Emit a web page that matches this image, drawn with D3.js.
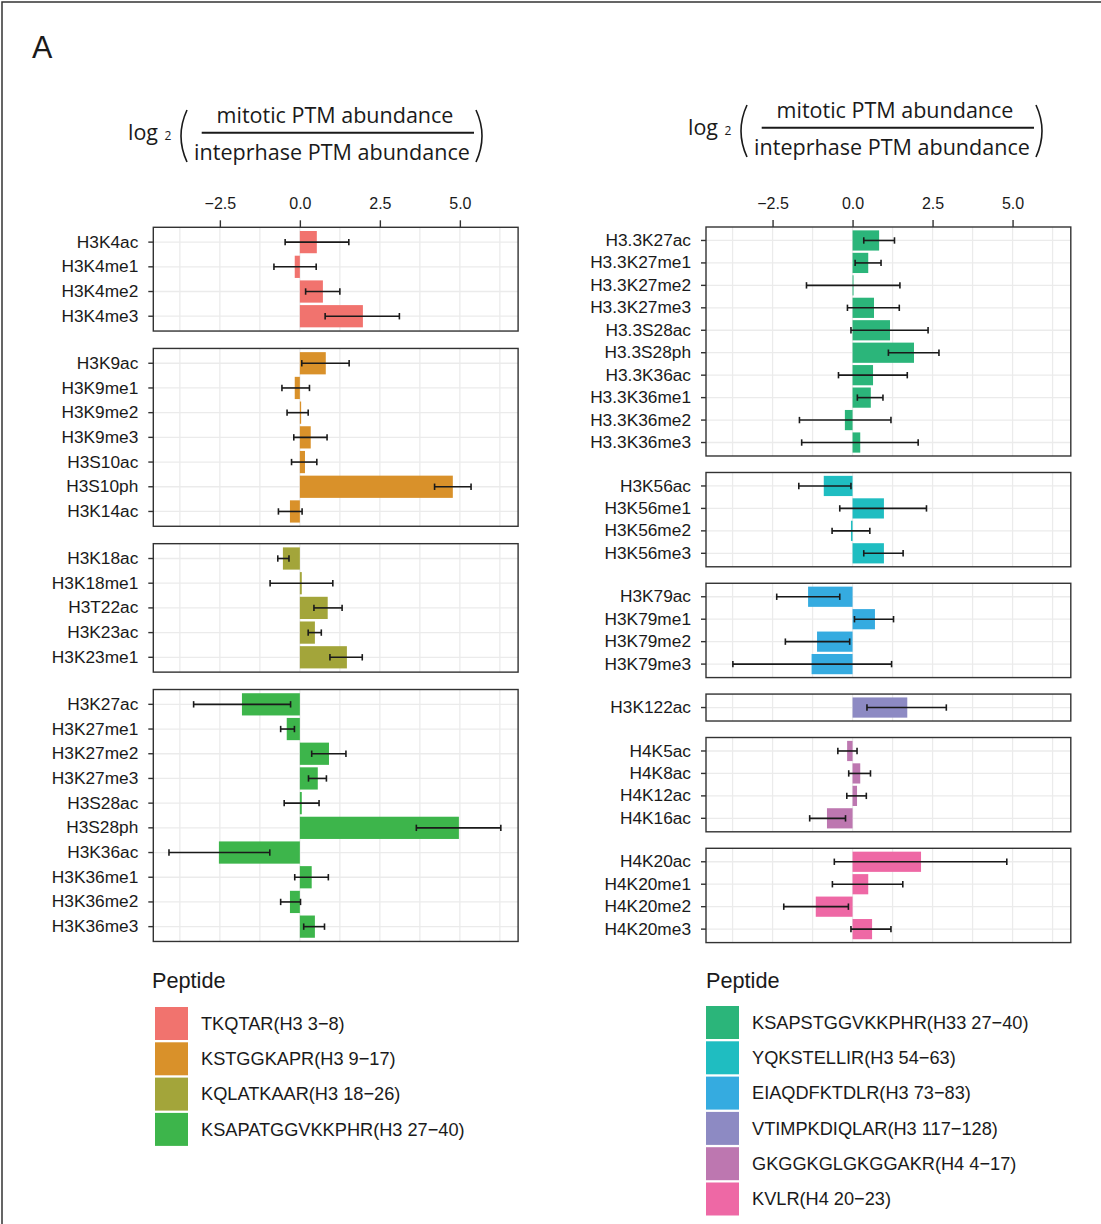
<!DOCTYPE html>
<html>
<head>
<meta charset="utf-8">
<script src="https://d3js.org/d3.v7.min.js"></script>
<style>
  body { margin: 0; background: #fff; }
  text { fill: #1a1a1a; }
</style>
</head>
<body>
<svg id="chart" width="1101" height="1224"></svg>
<script>
// peptides (one facet panel each), in legend order
const peptides = [
  "TKQTAR(H3 3\u22128)", "KSTGGKAPR(H3 9\u221217)", "KQLATKAAR(H3 18\u221226)", "KSAPATGGVKKPHR(H3 27\u221240)",
  "KSAPSTGGVKKPHR(H33 27\u221240)", "YQKSTELLIR(H3 54\u221263)", "EIAQDFKTDLR(H3 73\u221283)",
  "VTIMPKDIQLAR(H3 117\u2212128)", "GKGGKGLGKGGAKR(H4 4\u221217)", "KVLR(H4 20\u221223)"
];
const peptideColors = ["#f1736e", "#d9912a", "#a3a53a", "#3db54b", "#2bb57a", "#1fbdc1", "#35abe0", "#8d8ac3", "#bd77b0", "#ee68a5"];
const peptideColumn = [0, 0, 0, 0, 1, 1, 1, 1, 1, 1];

const ptms = [
  ["H3K4ac", "H3K4me1", "H3K4me2", "H3K4me3"],
  ["H3K9ac", "H3K9me1", "H3K9me2", "H3K9me3", "H3S10ac", "H3S10ph", "H3K14ac"],
  ["H3K18ac", "H3K18me1", "H3T22ac", "H3K23ac", "H3K23me1"],
  ["H3K27ac", "H3K27me1", "H3K27me2", "H3K27me3", "H3S28ac", "H3S28ph", "H3K36ac", "H3K36me1", "H3K36me2", "H3K36me3"],
  ["H3.3K27ac", "H3.3K27me1", "H3.3K27me2", "H3.3K27me3", "H3.3S28ac", "H3.3S28ph", "H3.3K36ac", "H3.3K36me1", "H3.3K36me2", "H3.3K36me3"],
  ["H3K56ac", "H3K56me1", "H3K56me2", "H3K56me3"],
  ["H3K79ac", "H3K79me1", "H3K79me2", "H3K79me3"],
  ["H3K122ac"],
  ["H4K5ac", "H4K8ac", "H4K12ac", "H4K16ac"],
  ["H4K20ac", "H4K20me1", "H4K20me2", "H4K20me3"]
];
const log2Ratio = [
  [0.53, -0.16, 0.72, 1.97],
  [0.81, -0.16, 0.04, 0.34, 0.16, 4.78, -0.31],
  [-0.53, 0.06, 0.87, 0.47, 1.47],
  [-1.81, -0.41, 0.91, 0.56, 0.06, 4.97, -2.53, 0.37, -0.31, 0.47],
  [0.83, 0.49, 0.03, 0.67, 1.17, 1.92, 0.64, 0.57, -0.24, 0.24],
  [-0.90, 0.98, -0.05, 0.98],
  [-1.39, 0.70, -1.11, -1.28],
  [1.71],
  [-0.17, 0.24, 0.14, -0.80],
  [2.14, 0.49, -1.15, 0.61]
];
const errLow = [
  [-0.46, -0.81, 0.18, 0.79],
  [0.06, -0.56, -0.40, -0.19, -0.26, 4.21, -0.67],
  [-0.69, -0.93, 0.44, 0.26, 0.94],
  [-3.32, -0.60, 0.37, 0.27, -0.49, 3.64, -4.09, -0.16, -0.60, 0.12],
  [0.35, 0.08, -1.44, -0.16, -0.05, 1.12, -0.44, 0.15, -1.66, -1.59],
  [-1.68, -0.40, -0.64, 0.35],
  [-2.37, 0.06, -2.10, -3.74],
  [0.45],
  [-0.46, -0.12, -0.18, -1.34],
  [-0.57, -0.63, -2.15, -0.05]
];
const errHigh = [
  [1.53, 0.51, 1.25, 3.11],
  [1.54, 0.30, 0.26, 0.85, 0.53, 5.35, 0.07],
  [-0.34, 1.03, 1.32, 0.67, 1.95],
  [-0.29, -0.17, 1.44, 0.83, 0.60, 6.28, -0.94, 0.89, 0.02, 0.77],
  [1.31, 0.89, 1.48, 1.46, 2.36, 2.70, 1.71, 0.95, 1.20, 2.05],
  [-0.05, 2.31, 0.54, 1.58],
  [-0.40, 1.28, -0.09, 1.22],
  [2.93],
  [0.14, 0.56, 0.43, -0.22],
  [4.82, 1.57, -0.13, 1.20]
];

const xDomain = [-4.58, 6.82];
const xTicks = [-2.5, 0, 2.5, 5];
const xMinor = [-3.75, -1.25, 1.25, 3.75, 6.25];

const columns = [
  {x0: 153.3, top: 227.3, step: 24.7, gap: 17.4, dx: 0, dy: 0, legendTitleX: 152, swatchX: 155, swatchY: 1007},
  {x0: 706, top: 227, step: 22.45, gap: 16.5, dx: 560, dy: -5, legendTitleX: 706, swatchX: 706, swatchY: 1006}
];
const panelW = (xDomain[1] - xDomain[0]) * 32;
const sans = "Liberation Sans, Arial, sans-serif";

const svg = d3.select("#chart");
svg.append("rect").attr("width", 1101).attr("height", 1224).attr("fill", "#fff");
svg.append("rect").attr("x", 2).attr("y", 2).attr("width", 1200).attr("height", 1300)
  .attr("fill", "none").attr("stroke", "#333").attr("stroke-width", 1.5);

svg.append("text").attr("x", 32).attr("y", 57.5)
  .attr("font-family", sans).attr("font-size", 30.5).text("A");

// fit a text element to a target width
function fitText(sel, width) {
  const len = sel.node().getComputedTextLength();
  const fs = +sel.attr("font-size");
  sel.attr("font-size", fs * width / len);
}

function drawTitle(g) {
  const ff = "Open Sans, Noto Sans, sans-serif";
  g.append("text").attr("x", 128).attr("y", 140).attr("font-family", ff).attr("font-size", 22).text("log")
    .call(fitText, 30);
  g.append("text").attr("x", 164.5).attr("y", 140).attr("font-family", ff).attr("font-size", 12).text("2");
  g.append("text").attr("x", 335).attr("y", 123.3).attr("text-anchor", "middle")
    .attr("font-family", ff).attr("font-size", 22).text("mitotic PTM abundance").call(fitText, 237);
  g.append("line").attr("x1", 201.7).attr("x2", 474).attr("y1", 132.7).attr("y2", 132.7)
    .attr("stroke", "#1a1a1a").attr("stroke-width", 2);
  g.append("text").attr("x", 332).attr("y", 160).attr("text-anchor", "middle")
    .attr("font-family", ff).attr("font-size", 22).text("inteprhase PTM abundance").call(fitText, 276);
  g.append("path").attr("d", "M187,110 Q175,136 187,162").attr("fill", "none")
    .attr("stroke", "#1a1a1a").attr("stroke-width", 1.6);
  g.append("path").attr("d", "M476,110 Q488,136 476,162").attr("fill", "none")
    .attr("stroke", "#1a1a1a").attr("stroke-width", 1.6);
}

columns.forEach((col, ci) => {
  const x = d3.scaleLinear().domain(xDomain).range([col.x0, col.x0 + panelW]);

  drawTitle(svg.append("g").attr("transform", `translate(${col.dx},${col.dy})`));

  // top axis
  const axisG = svg.append("g").attr("transform", `translate(0,${col.top})`)
    .call(d3.axisTop(x).tickValues(xTicks).tickFormat(d3.format(".1f")).tickSize(7).tickPadding(11));
  axisG.select(".domain").remove();
  axisG.selectAll(".tick line").attr("stroke", "#333").attr("stroke-width", 1.4);
  axisG.selectAll(".tick text").attr("font-family", sans)
    .attr("font-size", 16).attr("fill", "#333");

  let y0 = col.top;
  peptides.forEach((pep, pi) => {
    if (peptideColumn[pi] !== ci) return;
    const names = ptms[pi];
    const h = col.step * (names.length + 0.2);
    const y = d3.scaleBand().domain(names).range([y0, y0 + h]).paddingInner(0.1).paddingOuter(0.15);
    const g = svg.append("g");

    g.append("rect").attr("x", x.range()[0]).attr("y", y0).attr("width", panelW).attr("height", h).attr("fill", "#fff");
    g.selectAll(".vgrid").data(xTicks.concat(xMinor)).join("line")
      .attr("x1", d => x(d)).attr("x2", d => x(d)).attr("y1", y0).attr("y2", y0 + h)
      .attr("stroke", "#ebebeb").attr("stroke-width", 1.3);
    g.selectAll(".hgrid").data(names).join("line")
      .attr("x1", x.range()[0]).attr("x2", x.range()[1])
      .attr("y1", d => y(d) + y.bandwidth() / 2).attr("y2", d => y(d) + y.bandwidth() / 2)
      .attr("stroke", "#ebebeb").attr("stroke-width", 1.3);

    const rows = names.map((n, i) => ({name: n, v: log2Ratio[pi][i], lo: errLow[pi][i], hi: errHigh[pi][i]}));
    g.selectAll(".bar").data(rows).join("rect")
      .attr("x", d => x(Math.min(0, d.v))).attr("width", d => Math.abs(x(d.v) - x(0)))
      .attr("y", d => y(d.name)).attr("height", y.bandwidth())
      .attr("fill", peptideColors[pi]);

    const eb = g.selectAll(".err").data(rows).join("g")
      .attr("transform", d => `translate(0,${y(d.name) + y.bandwidth() / 2})`)
      .attr("stroke", "#1a1a1a").attr("stroke-width", 1.6);
    eb.append("line").attr("x1", d => x(d.lo)).attr("x2", d => x(d.hi));
    eb.append("line").attr("x1", d => x(d.lo)).attr("x2", d => x(d.lo)).attr("y1", -3.2).attr("y2", 3.2);
    eb.append("line").attr("x1", d => x(d.hi)).attr("x2", d => x(d.hi)).attr("y1", -3.2).attr("y2", 3.2);

    g.append("rect").attr("x", x.range()[0]).attr("y", y0).attr("width", panelW).attr("height", h)
      .attr("fill", "none").attr("stroke", "#333").attr("stroke-width", 1.4);

    const ya = g.append("g").attr("transform", `translate(${x.range()[0]},0)`)
      .call(d3.axisLeft(y).tickSize(5).tickPadding(10));
    ya.select(".domain").remove();
    ya.selectAll(".tick line").attr("stroke", "#333").attr("stroke-width", 1.4);
    ya.selectAll(".tick text").attr("font-family", sans)
      .attr("font-size", 17.3).attr("fill", "#333");

    y0 += h + col.gap;
  });

  // legend
  const lg = svg.append("g");
  lg.append("text").attr("x", col.legendTitleX).attr("y", 988)
    .attr("font-family", sans).attr("font-size", 21.7).text("Peptide");
  const items = peptides.map((p, i) => ({p, i})).filter(d => peptideColumn[d.i] === ci);
  items.forEach((d, k) => {
    const sy = col.swatchY + k * 35.3;
    lg.append("rect").attr("x", col.swatchX).attr("y", sy).attr("width", 33).attr("height", 33)
      .attr("fill", peptideColors[d.i]);
    lg.append("text").attr("x", col.swatchX + 46).attr("y", sy + 16.5).attr("dy", "0.35em")
      .attr("font-family", sans).attr("font-size", 18.2).text(d.p);
  });
});
</script>
</body>
</html>
